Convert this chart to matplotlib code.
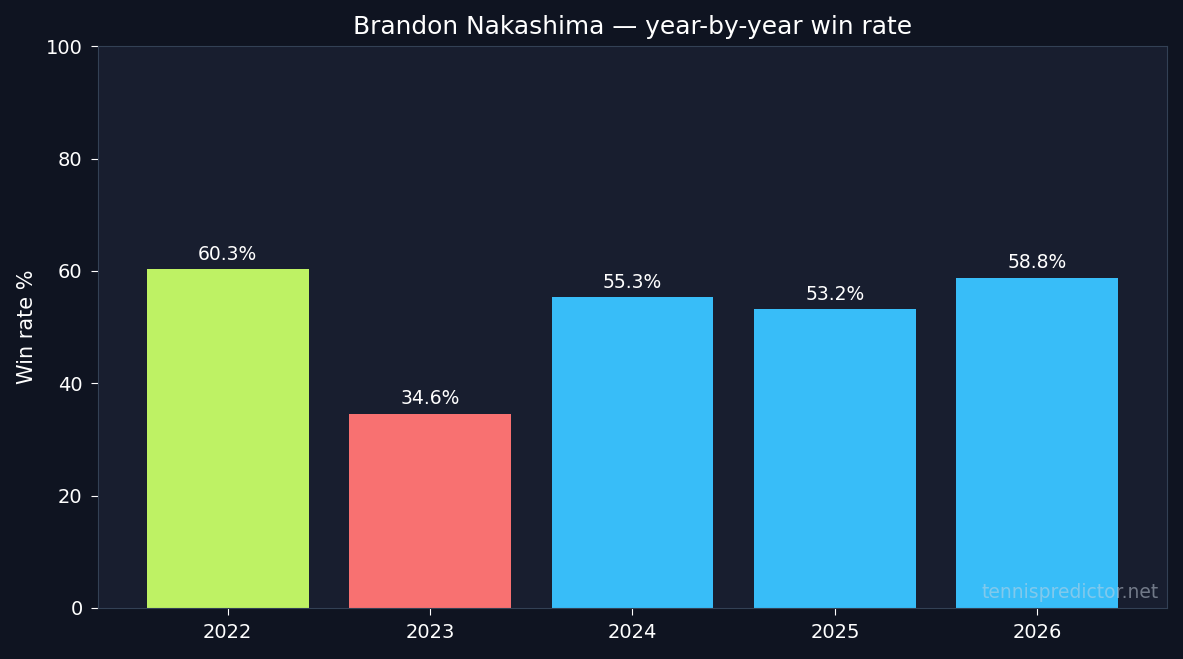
import matplotlib
matplotlib.use('Agg')
import matplotlib.pyplot as plt

plt.rcParams['font.family'] = ['DejaVu Sans']

years = ['2022', '2023', '2024', '2025', '2026']
win_rates = [60.3, 34.6, 55.3, 53.2, 58.8]
bar_colors = ['#bef264', '#f87171', '#38bdf8', '#38bdf8', '#38bdf8']

fig = plt.figure(figsize=(11.83, 6.59), dpi=100, facecolor='#0f1421')
ax = fig.add_axes([0.0828, 0.0774, 0.9037, 0.8526], facecolor='#181e2f')

x = range(len(years))
bars = ax.bar(x, win_rates, width=0.8, color=bar_colors)
for b, v in zip(bars, win_rates):
    ax.annotate(f'{v}%', (b.get_x() + b.get_width() / 2, v),
                xytext=(0, 4), textcoords='offset points',
                ha='center', va='bottom', color='white', fontsize=13.5)

ax.set_xticks(list(x))
ax.set_xticklabels(years)
ax.set_ylim(0, 100)
ax.set_ylabel('Win rate %', color='white', fontsize=15, labelpad=6)
ax.set_title('Brandon Nakashima \u2014 year-by-year win rate', color='white',
             fontsize=17.9, pad=9)
ax.tick_params(colors='white', labelsize=14, length=5, pad=6)
for s in ax.spines.values():
    s.set_color('#334155')

ax.text(0.9925, 0.01, 'tennispredictor.net', transform=ax.transAxes,
        ha='right', va='bottom', color='#cbd5e1', alpha=0.5, fontsize=13.5)

fig.savefig('out.png', dpi=100, facecolor=fig.get_facecolor())
